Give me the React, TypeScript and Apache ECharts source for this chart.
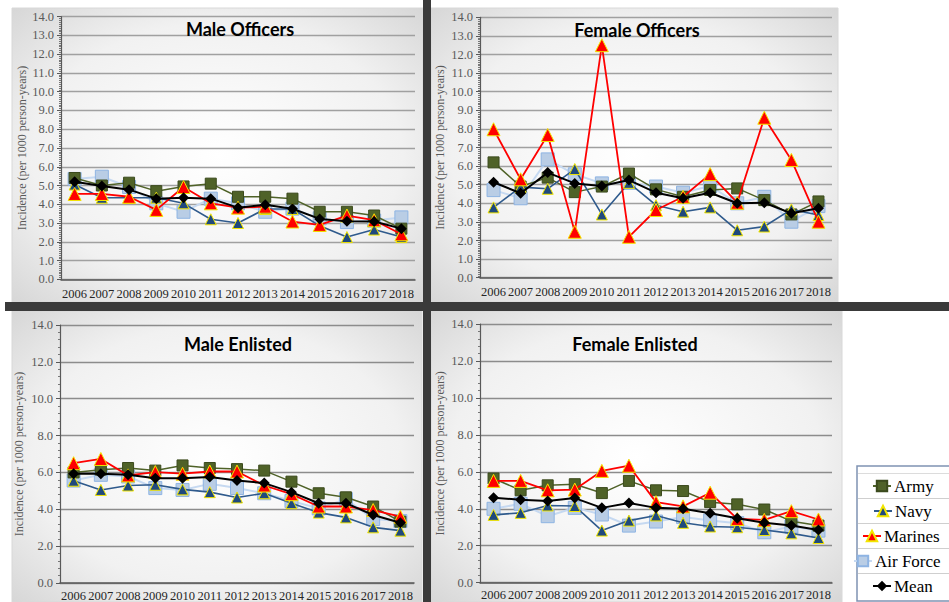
import React, { useEffect, useRef } from "react";
import * as echarts from "echarts";

const years = ["2006", "2007", "2008", "2009", "2010", "2011", "2012", "2013", "2014", "2015", "2016", "2017", "2018"];
const panelTitles = ["Male Officers", "Female Officers", "Male Enlisted", "Female Enlisted"];
const serviceNames = ["Army", "Navy", "Marines", "Air Force", "Mean"];
const yAxisName = "Incidence (per 1000 person-years)";

// Male Officers
const moArmy = [5.4, 5.0, 5.15, 4.7, 4.95, 5.1, 4.4, 4.4, 4.3, 3.6, 3.6, 3.4, 2.7];
const moNavy = [5.05, 4.35, 4.35, 4.35, 4.05, 3.2, 3.0, 3.75, 3.75, 2.85, 2.25, 2.65, 2.25];
const moMarines = [4.55, 4.55, 4.4, 3.7, 4.92, 4.05, 3.82, 3.87, 3.08, 2.9, 3.4, 3.15, 2.4];
const moAirForce = [5.35, 5.47, 4.92, 4.05, 3.6, 4.3, 4.05, 3.6, 3.77, 3.25, 3.05, 3.13, 3.3];
const moMean = [5.2, 4.98, 4.78, 4.3, 4.35, 4.3, 3.82, 3.97, 3.76, 3.22, 3.1, 3.08, 2.7];

// Female Officers
const foArmy = [6.2, 4.9, 5.38, 4.6, 4.9, 5.6, 4.75, 4.35, 4.72, 4.8, 4.17, 3.4, 4.1];
const foNavy = [3.78, 4.87, 4.78, 5.84, 3.4, 5.1, 3.9, 3.55, 3.78, 2.55, 2.75, 3.67, 3.37];
const foMarines = [7.98, 5.29, 7.67, 2.47, 12.5, 2.2, 3.64, 4.35, 5.57, 4.03, 8.6, 6.33, 3.01];
const foAirForce = [4.71, 4.27, 6.36, 5.56, 5.07, 5.1, 4.9, 4.57, 4.93, 4.0, 4.35, 3.01, 3.85];
const foMean = [5.13, 4.54, 5.65, 5.07, 4.93, 5.25, 4.57, 4.27, 4.57, 4.0, 4.03, 3.46, 3.73];

// Male Enlisted
const meArmy = [6.0, 6.15, 6.24, 6.1, 6.38, 6.24, 6.18, 6.1, 5.5, 4.87, 4.65, 4.15, 3.33];
const meNavy = [5.55, 5.05, 5.29, 5.33, 5.08, 4.93, 4.64, 4.87, 4.33, 3.82, 3.56, 3.02, 2.84];
const meMarines = [6.5, 6.73, 5.84, 6.02, 5.93, 6.05, 6.05, 5.29, 4.82, 4.15, 4.15, 3.96, 3.6];
const meAirForce = [5.56, 5.87, 5.78, 5.15, 5.05, 5.38, 5.15, 4.87, 4.45, 4.05, 4.55, 3.47, 3.36];
const meMean = [5.93, 5.93, 5.87, 5.69, 5.69, 5.75, 5.56, 5.42, 4.93, 4.33, 4.33, 3.69, 3.27];

// Female Enlisted
const feArmy = [5.64, 5.0, 5.27, 5.33, 4.85, 5.51, 5.0, 4.96, 4.36, 4.24, 3.96, 3.33, 3.09];
const feNavy = [3.67, 3.78, 4.18, 4.15, 2.82, 3.36, 3.64, 3.24, 3.04, 3.0, 2.85, 2.67, 2.42];
const feMarines = [5.51, 5.51, 5.0, 5.04, 6.05, 6.33, 4.36, 4.13, 4.87, 3.45, 3.4, 3.87, 3.42];
const feAirForce = [4.0, 4.27, 3.6, 4.05, 3.69, 3.09, 3.31, 3.55, 3.36, 3.22, 2.73, 3.04, 2.82];
const feMean = [4.6, 4.49, 4.42, 4.58, 4.05, 4.31, 4.05, 4.0, 3.76, 3.49, 3.24, 3.09, 2.85];

const panelData = [
  [moArmy, moNavy, moMarines, moAirForce, moMean],
  [foArmy, foNavy, foMarines, foAirForce, foMean],
  [meArmy, meNavy, meMarines, meAirForce, meMean],
  [feArmy, feNavy, feMarines, feAirForce, feMean],
];

const SERIF = "'Liberation Serif', 'Times New Roman', serif";

const styles: Record<string, any> = {
  Army: { symbol: "rect", symbolSize: 11, item: { color: "#4f6228", borderColor: "#3b4a1d", borderWidth: 1 }, line: { color: "#4f6228", width: 1.5 } },
  Navy: { symbol: "triangle", symbolSize: 11, item: { color: "#1f497d", borderColor: "#f2e600", borderWidth: 1 }, line: { color: "#2f5a8c", width: 1.6 } },
  Marines: { symbol: "triangle", symbolSize: 13, item: { color: "#ff0000", borderColor: "#f2e600", borderWidth: 1 }, line: { color: "#ff0000", width: 1.8 } },
  "Air Force": { symbol: "rect", symbolSize: 13, item: { color: "#b9cde5", borderColor: "#8eb4e3", borderWidth: 1 }, line: { color: "#c6d9f1", width: 2 } },
  Mean: { symbol: "diamond", symbolSize: 11, item: { color: "#000000", borderColor: "#000000", borderWidth: 0 }, line: { color: "#000000", width: 2 } },
};

const drawOrder = [3, 0, 1, 2, 4];

const grids = [
  { left: 61, top: 16.7, width: 354, height: 262.6 },
  { left: 480, top: 17.3, width: 352, height: 260.4 },
  { left: 60, top: 325, width: 354, height: 259 },
  { left: 480, top: 324, width: 352, height: 258.7 },
];
const titlePos = [
  { x: 240, y: 29 },
  { x: 637, y: 30 },
  { x: 238, y: 344 },
  { x: 635, y: 344 },
];
const nameGaps = [33, 34, 35, 34];

function bgRect(x: number, y: number, w: number, h: number) {
  return {
    type: "rect",
    z: -10,
    shape: { x, y, width: w, height: h },
    style: {
      fill: new echarts.graphic.RadialGradient(0.5, 0.5, 0.75, [
        { offset: 0, color: "#ffffff" },
        { offset: 0.6, color: "#f1f1f1" },
        { offset: 1, color: "#d2d2d2" },
      ]),
      stroke: "#d8d8d8",
      lineWidth: 1,
    },
    silent: true,
  };
}

export default function App() {
  const ref = useRef<HTMLDivElement>(null);

  useEffect(() => {
    if (!ref.current) return;
    const chart = echarts.init(ref.current, null, { renderer: "svg" });

    const xAxis = grids.map((_, i) => ({
      type: "category",
      gridIndex: i,
      data: years,
      boundaryGap: true,
      axisLine: { show: true, lineStyle: { color: "#595959", width: 1.5 } },
      axisTick: { show: false },
      axisLabel: {
        color: "#262626",
        fontFamily: SERIF,
        fontSize: 12.5,
        margin: i < 2 ? 8 : 6,
        interval: 0,
      },
      splitLine: { show: false },
    }));

    const yAxis = grids.map((_, i) => ({
      type: "value",
      gridIndex: i,
      min: 0,
      max: 14,
      interval: i < 2 ? 1 : 2,
      name: yAxisName,
      nameLocation: "middle",
      nameGap: nameGaps[i],
      nameTextStyle: { color: "#595959", fontFamily: SERIF, fontSize: 12 },
      axisLine: { show: true, lineStyle: { color: "#595959", width: 1.2 } },
      axisTick: { show: true, length: 4, lineStyle: { color: "#595959" } },
      minorTick: { show: true, splitNumber: i < 2 ? 10 : 5, length: 2, lineStyle: { color: "#777777" } },
      axisLabel: {
        color: "#595959",
        fontFamily: SERIF,
        fontSize: 12.5,
        margin: 7,
        formatter: (v: number) => v.toFixed(1),
      },
      splitLine: { show: true, lineStyle: { color: i < 2 ? "#a0a0a0" : "#8c8c8c", width: 1.4 } },
      minorSplitLine: { show: false },
    }));

    const series: any[] = [];
    panelData.forEach((panel, pi) => {
      drawOrder.forEach((si) => {
        const name = serviceNames[si];
        const st = styles[name];
        series.push({
          type: "line",
          name,
          xAxisIndex: pi,
          yAxisIndex: pi,
          data: panel[si],
          symbol: st.symbol,
          symbolSize: st.symbolSize,
          showAllSymbol: true,
          itemStyle: st.item,
          lineStyle: st.line,
          z: 3 + drawOrder.indexOf(si),
        });
      });
    });

    const title = panelTitles.map((t, i) => ({
      text: t,
      left: titlePos[i].x,
      top: titlePos[i].y - 11,
      textAlign: "center",
      padding: 0,
      textStyle: { fontFamily: "Lato, 'Open Sans', sans-serif", fontWeight: "bold", fontSize: 18, color: "#000000", lineHeight: 22 },
    }));

    const legendRows = [
      { name: "Army", left: 872, cy: 486 },
      { name: "Navy", left: 873, cy: 511 },
      { name: "Marines", left: 862, cy: 536 },
      { name: "Air Force", left: 853, cy: 561 },
      { name: "Mean", left: 872, cy: 586 },
    ];
    const legend = legendRows.map((r) => ({
      data: [r.name],
      left: r.left,
      top: r.cy - 10,
      padding: 0,
      itemWidth: 18,
      itemHeight: 13,
      itemGap: 0,
      selectedMode: false,
      textStyle: { fontFamily: SERIF, fontSize: 17, color: "#000000", lineHeight: 20, padding: [0, 0, 0, -2] },
    }));

    const legendBox = [
      {
        type: "rect",
        z: 1,
        shape: { x: 857, y: 466, width: 100, height: 135 },
        style: { fill: "#ffffff", stroke: "#7f93b3", lineWidth: 1.5 },
        silent: true,
      },
      ...[498.5, 523.5, 548.5, 573.5].map((y) => ({
        type: "line",
        z: 2,
        shape: { x1: 858, y1: y, x2: 949, y2: y },
        style: { stroke: "#cfcfcf", lineWidth: 1 },
        silent: true,
      })),
      {
        type: "line",
        z: 2,
        shape: { x1: 858, y1: 473.5, x2: 949, y2: 473.5 },
        style: { stroke: "#dcdcdc", lineWidth: 1 },
        silent: true,
      },
    ];

    const graphic = [
      bgRect(12, 8, 411, 294),
      bgRect(431, 8, 407, 294),
      bgRect(12, 311, 410, 291),
      bgRect(431, 311, 411, 291),
      { type: "rect", z: -5, shape: { x: 423, y: 0, width: 8, height: 602 }, style: { fill: "#3a3a3a" }, silent: true },
      { type: "rect", z: -5, shape: { x: 5, y: 302, width: 944, height: 9 }, style: { fill: "#3a3a3a" }, silent: true },
      ...legendBox,
    ];

    chart.setOption({
      animation: false,
      backgroundColor: "#ffffff",
      title,
      legend,
      grid: grids.map((g) => ({ ...g, containLabel: false })),
      xAxis,
      yAxis,
      series,
      graphic,
    });

    return () => chart.dispose();
  }, []);

  return <div ref={ref} style={{ position: "absolute", left: 0, top: 0, width: 949, height: 602 }} />;
}
